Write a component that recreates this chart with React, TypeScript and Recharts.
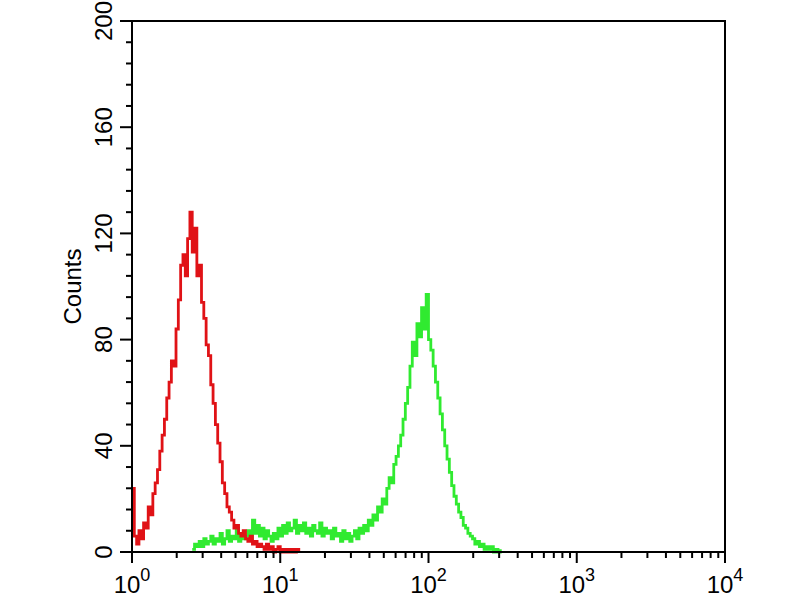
import React from 'react';
import { LineChart, Line, XAxis, YAxis, ReferenceArea } from 'recharts';

// histogram counts per channel bin (256 bins over 4 decades)
const redStart = 0;
const redCounts = [
  24, 6, 3, 8, 5, 11, 9, 17, 14, 22,
  26, 31, 38, 44, 50, 58, 64, 72, 70, 84,
  95, 108, 112, 104, 118, 128, 113, 122, 104, 108,
  94, 88, 78, 74, 63, 56, 48, 41, 34, 26,
  22, 17, 15, 12, 9, 10, 7, 6, 8, 5,
  4, 6, 3, 4, 2, 3, 2, 1, 3, 1,
  2, 0, 1, 2, 0, 1, 0, 1, 0, 1,
  0, 1, 0,
];

const greenStart = 26;
const greenCounts = [
  1, 3, 2, 4, 2, 5, 3, 4, 6, 3,
  5, 4, 7, 3, 5, 8, 4, 6, 5, 9,
  4, 7, 5, 6, 8, 5, 12, 7, 10, 6,
  9, 5, 8, 6, 4, 7, 5, 9, 6, 10,
  7, 11, 8, 9, 12, 7, 10, 8, 11, 7,
  9, 6, 10, 8, 7, 11, 6, 9, 7, 8,
  5, 9, 6, 7, 4, 8, 5, 7, 4, 6,
  8, 5, 9, 7, 10, 8, 12, 10, 14, 12,
  17, 15, 20, 18, 24, 28, 26, 33, 36, 40,
  44, 50, 56, 62, 70, 79, 74, 86, 81, 92,
  84, 97, 80, 76, 70, 64, 58, 52, 46, 40,
  35, 30, 25, 21, 18, 15, 13, 10, 9, 7,
  6, 5, 3, 4, 2, 3, 1, 2, 1, 2,
  0, 1, 0, 1,
];

const totalChannels = 256;
const channelsPerDecade = 64;
const decadeLabels = ['0', '1', '2', '3', '4'];
// log10(2..9) * 64
const minorOffsets = [19.3, 30.5, 38.5, 44.7, 49.8, 54.1, 57.8, 61.1];

const yTicks = [
  0, 8, 16, 24, 32, 40, 48, 56, 64, 72, 80, 88, 96, 104, 112, 120, 128,
  136, 144, 152, 160, 168, 176, 184, 192, 200,
];
const yLabelTicks = [0, 40, 80, 120, 160, 200];

const data = Array.from({ length: totalChannels }, (_, ch) => {
  const r = ch - redStart;
  const g = ch - greenStart;
  return {
    ch,
    red: r >= 0 && r < redCounts.length ? redCounts[r] : null,
    green: g >= 0 && g < greenCounts.length ? greenCounts[g] : null,
  };
});

const xTicks = decadeLabels.flatMap((_, d) => {
  const base = d * channelsPerDecade;
  if (d === decadeLabels.length - 1) return [base];
  return [base, ...minorOffsets.map((o) => base + o)];
});

const font = '"Liberation Sans", Arial, sans-serif';

const XTick = (props: any) => {
  const { x, y, payload } = props;
  const v = payload.value;
  const major = v % channelsPerDecade === 0;
  return (
    <g>
      <line x1={x} x2={x} y1={y} y2={y + (major ? 11 : 6)} stroke="#000" strokeWidth={2} />
      {major && (
        <text x={x} y={y + 41} textAnchor="middle" fontSize={24} fontFamily={font} fill="#000">
          10
          <tspan dy={-12} fontSize={18}>
            {decadeLabels[v / channelsPerDecade]}
          </tspan>
        </text>
      )}
    </g>
  );
};

const YTick = (props: any) => {
  const { x, y, payload } = props;
  const v = payload.value;
  const major = yLabelTicks.includes(v);
  const tx = x - 20;
  return (
    <g>
      <line x1={x - (major ? 12 : 6)} x2={x} y1={y} y2={y} stroke="#000" strokeWidth={2} />
      {major && (
        <text
          x={tx}
          y={y}
          transform={`rotate(-90 ${tx} ${y})`}
          textAnchor="middle"
          fontSize={24}
          fontFamily={font}
          fill="#000"
        >
          {v}
        </text>
      )}
    </g>
  );
};

const App = () => {
  return (
    <div style={{ position: 'absolute', left: 0, top: 0, background: '#fff' }}>
      <LineChart
        width={800}
        height={600}
        data={data}
        margin={{ top: 21, right: 75, bottom: 0, left: 12 }}
      >
        <XAxis
          dataKey="ch"
          type="number"
          domain={[0, totalChannels]}
          ticks={xTicks}
          interval={0}
          tick={<XTick />}
          tickLine={false}
          tickSize={0}
          tickMargin={0}
          height={48}
          axisLine={{ stroke: '#000', strokeWidth: 2 }}
        />
        <YAxis
          type="number"
          domain={[0, 200]}
          ticks={yTicks}
          interval={0}
          tick={<YTick />}
          tickLine={false}
          tickSize={0}
          tickMargin={0}
          width={120}
          axisLine={{ stroke: '#000', strokeWidth: 2 }}
          label={{
            value: 'Counts',
            angle: -90,
            position: 'center',
            fontSize: 24,
            fontFamily: font,
            fill: '#000',
          }}
        />
        <ReferenceArea
          x1={0}
          x2={totalChannels}
          y1={0}
          y2={200}
          fill="none"
          stroke="#000"
          strokeWidth={2}
          ifOverflow="visible"
        />
        <Line
          dataKey="green"
          type="stepAfter"
          stroke="#30ea30"
          strokeWidth={2.8}
          dot={false}
          isAnimationActive={false}
        />
        <Line
          dataKey="red"
          type="stepAfter"
          stroke="#e01216"
          strokeWidth={2.8}
          dot={false}
          isAnimationActive={false}
        />
      </LineChart>
    </div>
  );
};

export default App;
